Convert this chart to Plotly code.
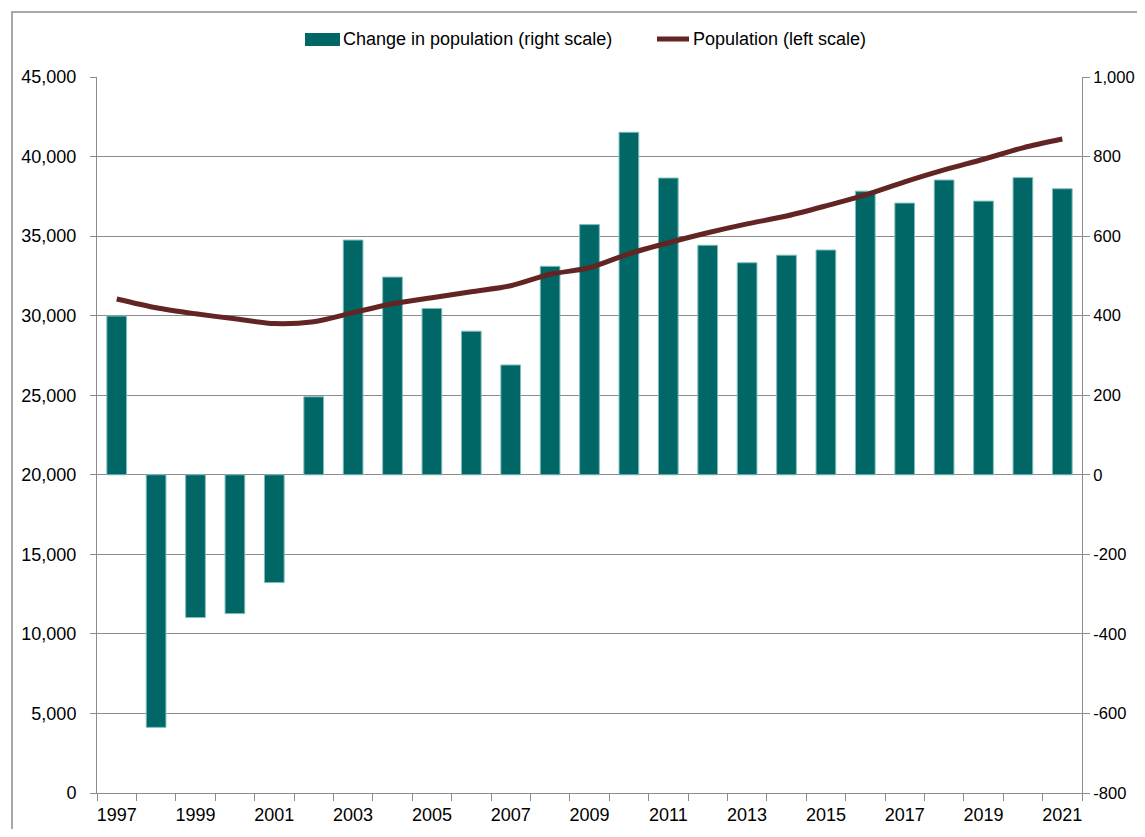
import plotly.graph_objects as go

years = list(range(1997, 2022))
change = [399, -635, -359, -349, -271, 196, 590, 497, 418, 361, 276, 524, 629,
          861, 746, 577, 533, 552, 565, 713, 683, 741, 688, 747, 719]
population = [31050, 30500, 30120, 29800, 29500, 29620, 30190, 30750, 31130, 31500,
              31880, 32600, 33010, 33890, 34580, 35210, 35770, 36260, 36900, 37590,
              38410, 39160, 39830, 40550, 41100]
left_ticks = list(range(0, 45001, 5000))
right_ticks = list(range(-800, 1001, 200))
label_years = list(range(1997, 2022, 2))
bar_name = "Change in population (right scale)"
line_name = "Population (left scale)"

FONT = "Liberation Sans"
FS = 18
GRID = "#8c8c8c"
BAR = "#006766"
LINE = "#632523"

OFF = 8  # page body margin
FIG_W, FIG_H = 1145 - 2 * OFF, 837 - 2 * OFF
L, R, T, B = 97, 1082, 77, 793  # target page pixels of plot area
W, H = R - L, B - T


def px(x):
    return (x - L) / W


def py(y):
    return (B - y) / H


fig = go.Figure()
fig.add_trace(go.Bar(
    x=years, y=change, name=bar_name,
    marker=dict(color=BAR, line=dict(color="#7fbcbb", width=1)),
    width=0.5, yaxis="y",
))
fig.add_trace(go.Scatter(
    x=years, y=population, name=line_name,
    mode="lines", line=dict(color=LINE, width=5, shape="spline", smoothing=0.8),
    yaxis="y2",
))

fig.update_layout(
    width=FIG_W, height=FIG_H,
    margin=dict(l=L - OFF, r=FIG_W - (R - OFF), t=T - OFF, b=FIG_H - (B - OFF),
                autoexpand=False),
    paper_bgcolor="white", plot_bgcolor="white",
    font=dict(family=FONT, size=FS, color="black"),
    showlegend=False,
    xaxis=dict(
        range=[1996.5, 2021.5], tickmode="array", tickvals=label_years,
        ticktext=[str(y) for y in label_years], ticks="", showgrid=False,
        showline=True, linecolor=GRID, linewidth=1, zeroline=False,
        minor=dict(tickmode="linear", tick0=1996.5, dtick=1, ticks="outside",
                   ticklen=7, tickcolor=GRID, showgrid=False),
        ticklabelstandoff=5, automargin=False,
    ),
    yaxis=dict(
        side="right", range=[-800, 1000], tickmode="array", tickvals=right_ticks,
        ticktext=[f"{v:,}" for v in right_ticks], showgrid=True, gridcolor=GRID,
        gridwidth=1, zeroline=False, showline=True, linecolor=GRID, ticks="outside",
        ticklen=7, tickcolor=GRID, ticklabelstandoff=0, automargin=False,
        tickfont=dict(size=16.5),
    ),
    yaxis2=dict(
        overlaying="y", side="left", range=[0, 45000], tickmode="array",
        tickvals=left_ticks, ticktext=[f"{v:,}" for v in left_ticks], showgrid=False,
        zeroline=False, showline=True, linecolor=GRID, ticks="outside", ticklen=6,
        tickcolor=GRID, ticklabelstandoff=10, automargin=False,
    ),
)

# chart-area border
fig.add_shape(type="rect", xref="paper", yref="paper",
              x0=px(12), x1=px(1300), y0=py(1000), y1=py(12),
              line=dict(color="#8c8c8c", width=1.5), fillcolor="rgba(0,0,0,0)", layer="below")

# legend
fig.add_shape(type="rect", xref="paper", yref="paper",
              x0=px(305), x1=px(340), y0=py(46), y1=py(33),
              fillcolor=BAR, line=dict(width=0))
fig.add_annotation(xref="paper", yref="paper", x=px(341), y=py(39), text=bar_name,
                   showarrow=False, xanchor="left", yanchor="middle",
                   font=dict(family=FONT, size=FS, color="black"))
fig.add_shape(type="line", xref="paper", yref="paper",
              x0=px(657), x1=px(689), y0=py(39), y1=py(39),
              line=dict(color=LINE, width=5))
fig.add_annotation(xref="paper", yref="paper", x=px(691), y=py(39), text=line_name,
                   showarrow=False, xanchor="left", yanchor="middle",
                   font=dict(family=FONT, size=FS, color="black"))

fig.write_html("out.html")
